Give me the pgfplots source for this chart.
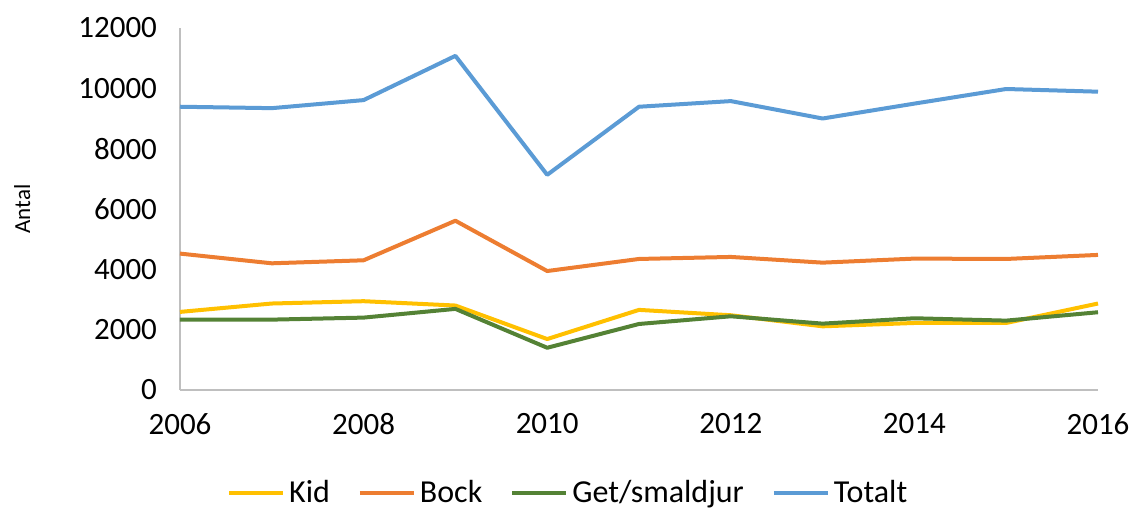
\documentclass[border=0pt]{standalone}
\usepackage{pgfplots}
\pgfplotsset{compat=1.18}
\usepackage{fontspec}
\setmainfont{Carlito}
\definecolor{cKid}{HTML}{FFC000}
\definecolor{cBock}{HTML}{ED7D31}
\definecolor{cGet}{HTML}{548235}
\definecolor{cTot}{HTML}{5B9BD5}
\definecolor{axgray}{HTML}{BFBFBF}
\begin{document}
\begin{tikzpicture}
\path[use as bounding box] (-90pt,-60pt) rectangle (476.5pt,195pt);
\begin{axis}[
  at={(0,0)}, anchor=south west,
  scale only axis, width=459pt, height=181pt,
  xmin=2006, xmax=2016, ymin=0, ymax=12000,
  xtick={2006,2008,...,2016}, ytick={0,2000,...,12000},
  scaled ticks=false,
  axis x line*=bottom, axis y line*=left,
  axis line style={-, draw=axgray, line width=1pt},
  major tick length=0pt,
  /pgf/number format/1000 sep={},
  /pgf/number format/assume math mode=true,
  tick label style={font=\fontsize{15.5}{18}\selectfont, text=black},
  yticklabel style={xshift=-8pt},
  xticklabel style={yshift=-8pt},
  ylabel={Antal},
  every axis y label/.style={at={(axis description cs:-0.172,0.5)}, rotate=90, anchor=center, font=\fontsize{11.5}{13}\selectfont},
  legend columns=4,
  legend style={draw=none, at={(0.424,-0.2845)}, anchor=center, font=\fontsize{16}{19}\selectfont,
    /tikz/every even column/.append style={column sep=12pt}},
  legend image code/.code={\draw[#1] (0pt,0pt) -- (27pt,0pt);},
  every axis plot/.append style={line width=2pt, line join=round},
  clip=false,
]
\addplot[cKid] coordinates {(2006,2589)(2007,2867)(2008,2944)(2009,2800)(2010,1689)(2011,2656)(2012,2478)(2013,2111)(2014,2222)(2015,2222)(2016,2867)};
\addlegendentry{Kid}
\addplot[cBock] coordinates {(2006,4522)(2007,4200)(2008,4300)(2009,5611)(2010,3944)(2011,4344)(2012,4411)(2013,4222)(2014,4356)(2015,4344)(2016,4478)};
\addlegendentry{Bock}
\addplot[cGet] coordinates {(2006,2333)(2007,2333)(2008,2400)(2009,2689)(2010,1400)(2011,2189)(2012,2444)(2013,2200)(2014,2378)(2015,2300)(2016,2578)};
\addlegendentry{Get/smaldjur}
\addplot[cTot] coordinates {(2006,9390)(2007,9343)(2008,9610)(2009,11077)(2010,7133)(2011,9390)(2012,9577)(2013,9000)(2014,9494)(2015,9978)(2016,9889)};
\addlegendentry{Totalt}
\end{axis}
\end{tikzpicture}
\end{document}
